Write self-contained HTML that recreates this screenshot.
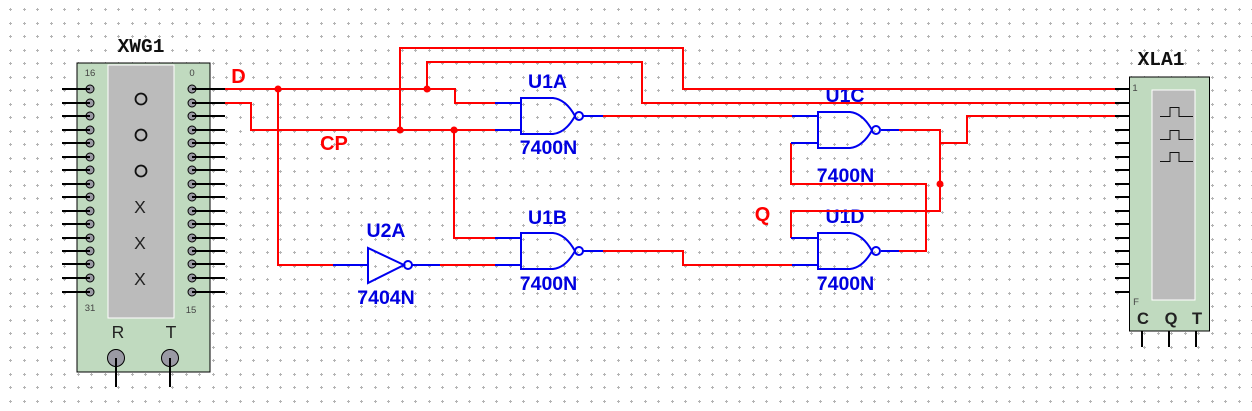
<!DOCTYPE html>
<html><head><meta charset="utf-8"><style>
html,body{margin:0;padding:0;background:#fff;width:1252px;height:411px;overflow:hidden}
svg{display:block}
text{font-family:"Liberation Sans",sans-serif}
.b{fill:#0000e0;font-weight:bold;font-size:19.5px;text-anchor:middle}
.r{fill:#f00;font-weight:bold;font-size:20px;text-anchor:middle}
.m{font-family:"Liberation Mono",monospace;font-weight:bold;font-size:19.5px;text-anchor:middle;fill:#111}
.s{font-size:9.5px;fill:#444;text-anchor:middle}
.k{font-size:17.5px;fill:#222;text-anchor:middle}
.wr{fill:none;stroke:#f00;stroke-width:2;shape-rendering:crispEdges}
.wb{fill:none;stroke:#0000f0;stroke-width:2;shape-rendering:crispEdges}
.wk{fill:none;stroke:#000;stroke-width:2;shape-rendering:crispEdges}
.g{fill:none;stroke:#0000f0;stroke-width:2}
.p{fill:#9a9aa4;stroke:#000;stroke-width:1}
</style></head><body>
<svg width="1252" height="411" viewBox="0 0 1252 411" xmlns="http://www.w3.org/2000/svg">
<defs>
<pattern id="d" x="0" y="0" width="27" height="27" patternUnits="userSpaceOnUse">
<path d="M9 9.5h3M10.5 8v3M23 9.5h3M24.5 8v3M9 23.5h3M10.5 22v3M23 23.5h3M24.5 22v3" stroke="#b4b4b4" stroke-width="1" fill="none"/>
</pattern>
<g id="nand">
<path class="g" d="M0 0H32C42 1 49 9 54 18C49 27 42 35 32 36H0Z"/>
<circle class="g" cx="58" cy="18" r="4"/>
</g>
</defs>
<rect width="1252" height="411" fill="#fff"/>
<rect width="1252" height="411" fill="url(#d)"/>

<!-- XWG1 -->
<rect x="77" y="63" width="133" height="309" fill="#c0dabf" stroke="#000" stroke-width="1"/>
<rect x="108" y="65" width="66" height="253" fill="#bbb" stroke="#fff" stroke-width="1"/>
<text class="m" x="141" y="52">XWG1</text>
<text class="s" x="90" y="76">16</text><text class="s" x="192" y="76">0</text>
<text class="s" x="90" y="311">31</text><text class="s" x="191" y="313">15</text>
<g fill="none" stroke="#111" stroke-width="1.800"><circle cx="141" cy="99" r="5.500"/><circle cx="141" cy="135" r="5.500"/><circle cx="141" cy="171" r="5.500"/></g>
<text class="k" x="140" y="213">X</text><text class="k" x="140" y="249">X</text><text class="k" x="140" y="285">X</text>
<text class="k" x="118" y="338">R</text><text class="k" x="171" y="338">T</text>
<g class="p">
<circle cx="90" cy="89" r="4"/><circle cx="90" cy="103" r="4"/><circle cx="90" cy="116" r="4"/><circle cx="90" cy="130" r="4"/><circle cx="90" cy="143" r="4"/><circle cx="90" cy="157" r="4"/><circle cx="90" cy="170" r="4"/><circle cx="90" cy="184" r="4"/><circle cx="90" cy="197" r="4"/><circle cx="90" cy="211" r="4"/><circle cx="90" cy="224" r="4"/><circle cx="90" cy="238" r="4"/><circle cx="90" cy="251" r="4"/><circle cx="90" cy="264" r="4"/><circle cx="90" cy="278" r="4"/><circle cx="90" cy="292" r="4"/>
<circle cx="192" cy="89" r="4"/><circle cx="192" cy="103" r="4"/><circle cx="192" cy="116" r="4"/><circle cx="192" cy="130" r="4"/><circle cx="192" cy="143" r="4"/><circle cx="192" cy="157" r="4"/><circle cx="192" cy="170" r="4"/><circle cx="192" cy="184" r="4"/><circle cx="192" cy="197" r="4"/><circle cx="192" cy="211" r="4"/><circle cx="192" cy="224" r="4"/><circle cx="192" cy="238" r="4"/><circle cx="192" cy="251" r="4"/><circle cx="192" cy="264" r="4"/><circle cx="192" cy="278" r="4"/><circle cx="192" cy="292" r="4"/>
<circle cx="116" cy="358" r="8.500"/><circle cx="170" cy="358" r="8.500"/>
</g>
<path class="wk" d="M62 89H90M62 103H90M62 116H90M62 130H90M62 143H90M62 157H90M62 170H90M62 184H90M62 197H90M62 211H90M62 224H90M62 238H90M62 251H90M62 264H90M62 278H90M62 292H90"/>
<path class="wk" d="M192 89H225M192 103H225M192 116H225M192 130H225M192 143H225M192 157H225M192 170H225M192 184H225M192 197H225M192 211H225M192 224H225M192 238H225M192 251H225M192 264H225M192 278H225M192 292H225"/>
<path class="wk" d="M116 358V387M170 358V387"/>

<!-- XLA1 -->
<rect x="1129.500" y="77" width="80" height="254" fill="#c0dabf" stroke="#000" stroke-width="1"/>
<rect x="1152" y="90" width="43" height="210" fill="#bbb" stroke="#fff" stroke-width="1"/>
<text class="m" x="1161" y="65">XLA1</text>
<text class="s" x="1135" y="91">1</text><text class="s" x="1136" y="305">F</text>
<path class="wk" d="M1115 89H1129M1115 103H1129M1115 116H1129M1115 130H1129M1115 143H1129M1115 157H1129M1115 170H1129M1115 184H1129M1115 197H1129M1115 211H1129M1115 224H1129M1115 238H1129M1115 251H1129M1115 264H1129M1115 278H1129M1115 292H1129"/>
<path class="wk" d="M1142 331V347M1169 331V347M1196 331V347"/>
<path d="M1160 116.500H1170V107.500H1179V116.500H1193M1160 139.500H1170V130.500H1179V139.500H1193M1160 161.500H1170V152.500H1179V161.500H1193" fill="none" stroke="#111" stroke-width="1"/>
<text x="1143" y="324" class="k" style="font-size:16.500px;font-weight:bold">C</text>
<text x="1171" y="324" class="k" style="font-size:16.500px;font-weight:bold">Q</text>
<text x="1197" y="324" class="k" style="font-size:16.500px;font-weight:bold">T</text>

<text class="b" x="547.500" y="88">U1A</text>
<text class="b" x="548.500" y="154">7400N</text>
<text class="b" x="547.500" y="224">U1B</text>
<text class="b" x="548.500" y="290">7400N</text>
<text class="b" x="386" y="237">U2A</text>
<text class="b" x="386" y="304">7404N</text>
<text class="b" x="845" y="102">U1C</text>
<text class="b" x="845.500" y="182">7400N</text>
<text class="b" x="845" y="223">U1D</text>
<text class="b" x="845.500" y="290">7400N</text>
<text class="r" x="238.500" y="83">D</text>
<text class="r" x="334" y="150">CP</text>
<text class="r" x="762.500" y="221">Q</text>

<!-- red wires -->
<path class="wr" d="M225 89H455V103H495"/>
<path class="wr" d="M225 103H251V130H495"/>
<path class="wr" d="M278 89V265H333"/>
<path class="wr" d="M400 130V48H683V89H1115"/>
<path class="wr" d="M427 89V62H642V103H1115"/>
<path class="wr" d="M454 130V238H495"/>
<path class="wr" d="M440 265H495"/>
<path class="wr" d="M603 116H792"/>
<path class="wr" d="M603 251H683V265H792"/>
<path class="wr" d="M899 130H940V211H791V238"/>
<path class="wr" d="M940 143H967V116H1115"/>
<path class="wr" d="M791 143V184H926V251H899"/>
<g fill="#f00"><circle cx="278" cy="89" r="3.500"/><circle cx="427" cy="89" r="3.500"/><circle cx="400" cy="130" r="3.500"/><circle cx="454" cy="130" r="3.500"/><circle cx="940" cy="184" r="3.500"/></g>

<!-- blue wires -->
<path class="wb" d="M495 103H521M495 130H521M495 238H521M495 265H521M583 116H603M583 251H603M333 265H367M412 265H440M792 116H818M791 143H818M791 238H818M792 265H818M881 130H899M881 251H899"/>
<use href="#nand" x="521" y="98"/>
<use href="#nand" x="521" y="233"/>
<use href="#nand" x="818" y="112"/>
<use href="#nand" x="818" y="233"/>
<path class="g" d="M368 248V283L404 265Z"/>
<circle class="g" cx="408" cy="265" r="4"/>
</svg>
</body></html>
